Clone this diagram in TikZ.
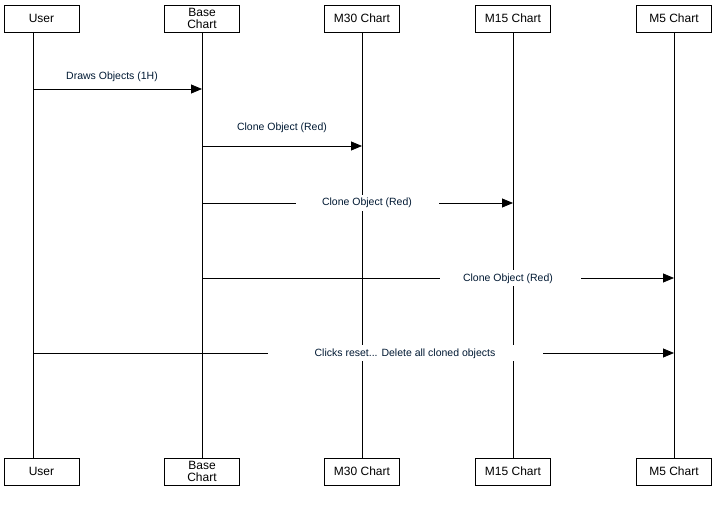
\documentclass[tikz,border=0pt]{standalone}
\usepackage{fontspec}
\setmainfont{Liberation Sans}
\usetikzlibrary{arrows.meta}
\definecolor{lbl}{HTML}{001933}
\begin{document}
\begin{tikzpicture}[x=1pt,y=-1pt,
 box/.style={draw,fill=white,minimum width=75pt,minimum height=27pt,inner sep=0pt,font=\fontsize{12}{12}\selectfont,align=center},
 life/.style={line width=0.8pt},
 msg/.style={line width=0.8pt,-{Triangle[length=11pt,width=9pt]}},
 lab/.style={font=\fontsize{10.5}{12}\selectfont,text=lbl,inner sep=0pt},
 gap/.style={fill=white,inner sep=0pt,minimum height=16pt}]
\useasboundingbox (0,0) rectangle (715,505);
\foreach \n/\x/\t in {u/41.5/User,b/202/{Base\\Chart},m30/362/M30 Chart,m15/513/M15 Chart,m5/674/M5 Chart}{
  \node[box] (\n t) at (\x,18.5) {\t};
  \node[box] (\n b) at (\x,471.5) {\t};
}
\draw[life] (33,32) -- (33,458);
\foreach \n in {b,m30,m15,m5}{\draw[life] (\n t) -- (\n b);}
\coordinate (a1s) at (33,89); \coordinate (a1e) at (202,89);
\draw[msg] (a1s) -- (a1e);
\node[lab] (l1) at (112,77) {Draws Objects (1H)};
\coordinate (a2s) at (202,146); \coordinate (a2e) at (362,146);
\draw[msg] (a2s) -- (a2e);
\node[lab] (l2) at (282,128) {Clone Object (Red)};
\coordinate (a3s) at (202,203); \coordinate (a3e) at (513,203);
\draw[msg] (a3s) -- (a3e);
\node[gap,minimum width=143pt] (g3) at (367.5,203) {};
\node[lab] (l3) at (367,202.5) {Clone Object (Red)};
\coordinate (a4s) at (202,278); \coordinate (a4e) at (674,278);
\draw[msg] (a4s) -- (a4e);
\node[gap,minimum width=141pt] (g4) at (510.5,278) {};
\node[lab] (l4) at (508,278.5) {Clone Object (Red)};
\coordinate (a5s) at (33,353); \coordinate (a5e) at (674,353);
\draw[msg] (a5s) -- (a5e);
\node[gap,minimum width=275pt] (g5) at (405.5,353) {};
\node[lab] (l5) at (405,353.5) {Clicks reset... Delete all cloned objects};
\end{tikzpicture}
\end{document}
